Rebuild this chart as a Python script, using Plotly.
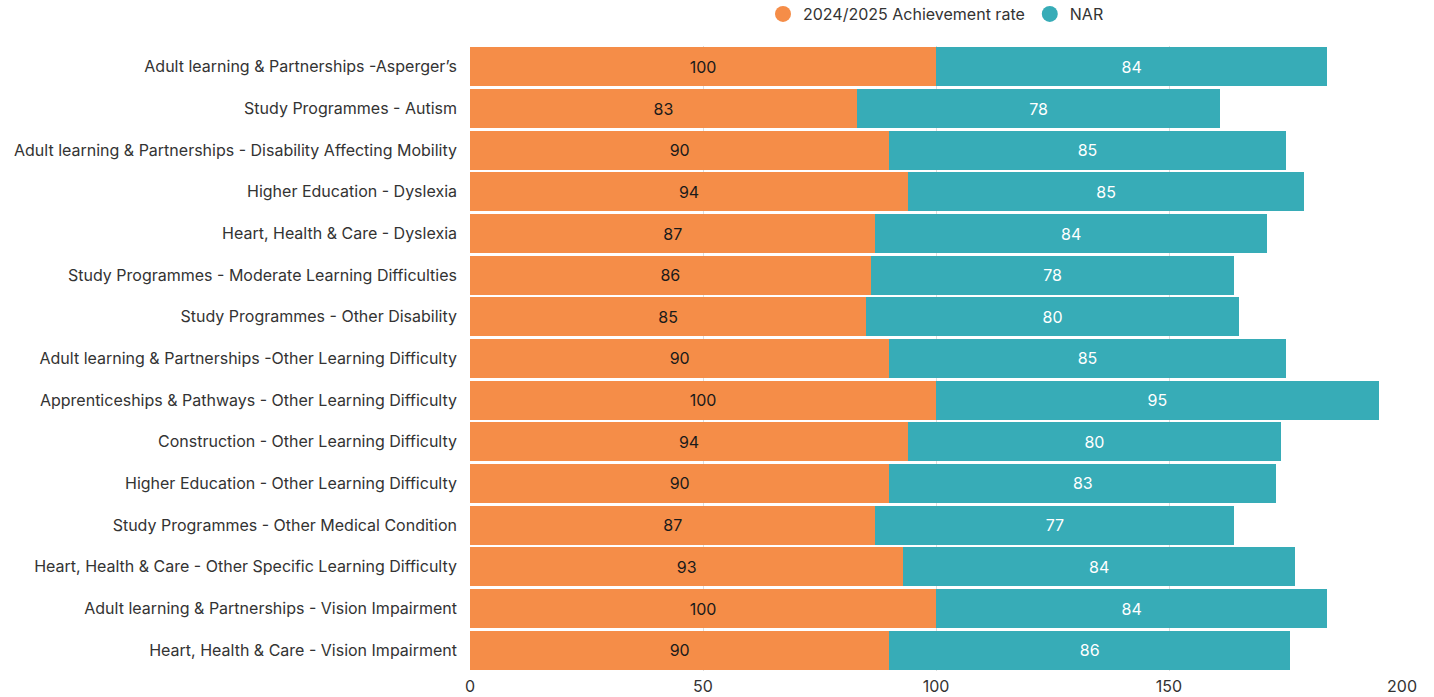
import plotly.graph_objects as go

categories = [
    "Adult learning & Partnerships -Asperger\u2019s",
    "Study Programmes - Autism",
    "Adult learning & Partnerships - Disability Affecting Mobility",
    "Higher Education - Dyslexia",
    "Heart, Health & Care - Dyslexia",
    "Study Programmes - Moderate Learning Difficulties",
    "Study Programmes - Other Disability",
    "Adult learning & Partnerships -Other Learning Difficulty",
    "Apprenticeships & Pathways - Other Learning Difficulty",
    "Construction - Other Learning Difficulty",
    "Higher Education - Other Learning Difficulty",
    "Study Programmes - Other Medical Condition",
    "Heart, Health & Care - Other Specific Learning Difficulty",
    "Adult learning & Partnerships - Vision Impairment",
    "Heart, Health & Care - Vision Impairment",
]
achievement = [100, 83, 90, 94, 87, 86, 85, 90, 100, 94, 90, 87, 93, 100, 90]
nar = [84, 78, 85, 85, 84, 78, 80, 85, 95, 80, 83, 77, 84, 84, 86]
series_names = ["2024/2025 Achievement rate", "NAR"]
colors = ["#F58D48", "#37ACB7"]

FONT = "Inter"
fig = go.Figure()
fig.add_trace(go.Bar(
    y=categories, x=achievement, orientation="h", name=series_names[0],
    marker=dict(color=colors[0], line=dict(width=0)),
    text=achievement, textposition="inside", insidetextanchor="middle",
    textfont=dict(color="#1a1a1a", size=16, family=FONT),
    showlegend=False, hoverinfo="x+y",
))
fig.add_trace(go.Bar(
    y=categories, x=nar, orientation="h", name=series_names[1],
    marker=dict(color=colors[1], line=dict(width=0)),
    text=nar, textposition="inside", insidetextanchor="middle",
    textfont=dict(color="#ffffff", size=16, family=FONT),
    showlegend=False, hoverinfo="x+y",
))
for nm, c in zip(series_names, colors):
    fig.add_trace(go.Scatter(
        x=[None], y=[None], mode="markers", name=nm,
        marker=dict(symbol="circle", size=17, color=c),
    ))

fig.update_layout(
    width=1434, height=697,
    barmode="stack", bargap=0.07,
    plot_bgcolor="white", paper_bgcolor="white",
    margin=dict(l=470, r=32, t=46, b=26),
    font=dict(family=FONT, size=15, color="#333333"),
    uniformtext=dict(mode="show", minsize=10),
    legend=dict(
        orientation="h", x=0.5, xanchor="center", xref="paper",
        y=1 - 14 / 697, yref="container", yanchor="middle",
        font=dict(size=16, color="#333333", family=FONT),
        itemwidth=30, tracegroupgap=0, traceorder="normal",
    ),
    xaxis=dict(
        range=[0, 200], tickvals=[0, 50, 100, 150, 200],
        showgrid=True, gridcolor="#dddddd", gridwidth=1,
        zeroline=False, showline=False, ticks="", automargin=False,
        tickfont=dict(size=16, color="#333333"), ticklabelstandoff=4,
    ),
    yaxis=dict(
        autorange="reversed", showgrid=False, ticks="", automargin=False,
        ticklabelstandoff=12, tickfont=dict(size=16, color="#333333"),
    ),
)
fig.write_html("out.html")
